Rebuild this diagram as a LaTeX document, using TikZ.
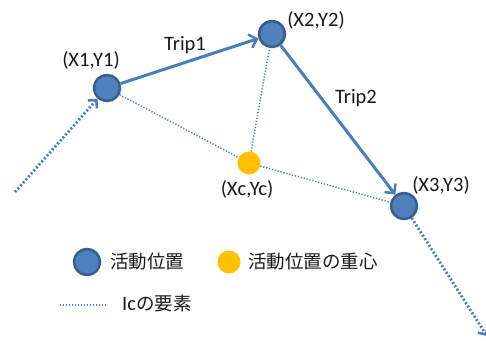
\documentclass[tikz,border=0pt]{standalone}
\usepackage{fontspec}
\setmainfont{Carlito}
\newfontfamily\jp{Noto Sans CJK JP}
\usetikzlibrary{arrows.meta}
\definecolor{nodeblue}{HTML}{4F81BD}
\definecolor{nodeedge}{HTML}{385D8A}
\definecolor{lineblue}{HTML}{4A7EBB}
\definecolor{cyellow}{HTML}{FFC000}
\tikzset{
  act/.style={circle, fill=nodeblue, draw=nodeedge, line width=2.5pt, minimum size=26pt, inner sep=0pt},
  cent/.style={circle, fill=cyellow, draw=none, minimum size=23pt, inner sep=0pt},
  lbl/.style={font=\fontsize{20.5}{22}\selectfont, text=black!90, inner sep=0pt},
  jlbl/.style={font=\fontsize{18.5}{20}\selectfont\jp, text=black!90, inner sep=0pt, anchor=west},
  trip/.style={draw=lineblue, line width=3pt, -{Straight Barb[length=7pt,width=14pt,line width=2.5pt]}},
  thick dots/.style={draw=lineblue, line width=2.8pt, dash pattern=on 2pt off 2pt},
  thick dots arrow/.style={thick dots, -{Straight Barb[length=6pt,width=12pt,line width=2.5pt]}},
  thin dots/.style={draw=lineblue, line width=1.5pt, dash pattern=on 1.2pt off 1.8pt},
}
\begin{document}
\begin{tikzpicture}[x=1pt,y=-1pt]
\useasboundingbox (0,0) rectangle (486,340);
% nodes
\node[act] (a1) at (107,88) {};
\node[act] (a2) at (272,34) {};
\node[act] (a3) at (404,206) {};
\node[cent] (c) at (249,163) {};
\coordinate (inS) at (15,192);
\coordinate (outE) at (487,336);
% labels
\node[lbl] (l1) at (91,60) {(X1,Y1)};
\node[lbl] (l2) at (316,20) {(X2,Y2)};
\node[lbl] (l3) at (441,185) {(X3,Y3)};
\node[lbl] (lc) at (247,189) {(Xc,Yc)};
\node[lbl] (t1) at (185,45) {Trip1};
\node[lbl] (t2) at (356,98) {Trip2};
% connectors
\draw[thin dots] (a1) -- (c);
\draw[thin dots] (c) -- (a2);
\draw[thin dots] (c) -- (a3);
\draw[trip] (a1) -- (a2);
\draw[trip] (a2) -- (a3);
\draw[thick dots arrow] (inS) -- (a1);
\draw[thick dots arrow] (a3) -- (outE);
% legend
\node[act] (k1) at (87,262) {};
\node[jlbl] (k1t) at (110,262) {活動位置};
\node[cent] (k2) at (229,262) {};
\node[jlbl] (k2t) at (248,262) {活動位置の重心};
\coordinate (k3a) at (60,305);
\coordinate (k3b) at (107,305);
\draw[thin dots] (k3a) -- (k3b);
\node[jlbl] (k3t) at (122,303) {{\rmfamily\fontsize{20.5}{22}\selectfont Ic}の要素};
\end{tikzpicture}
\end{document}
